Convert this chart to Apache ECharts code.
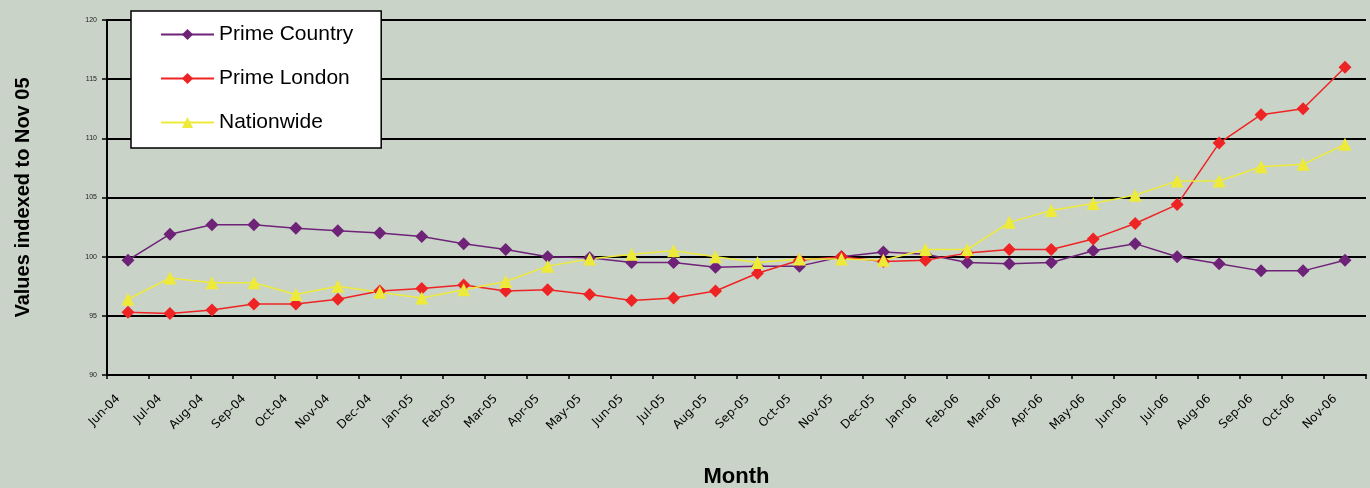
<!DOCTYPE html>
<html>
<head>
<meta charset="utf-8">
<script src="https://cdn.jsdelivr.net/npm/echarts@6/dist/echarts.min.js"></script>
<style>
  html, body { margin: 0; padding: 0; background: #CAD3C8; }
  #chart { width: 1370px; height: 488px; }
</style>
</head>
<body>
<div id="chart"></div>
<script>
// Monthly index values, Jun-04 to Nov-06 (Nov-05 = 100)
const months = [
  'Jun-04','Jul-04','Aug-04','Sep-04','Oct-04','Nov-04','Dec-04','Jan-05','Feb-05','Mar-05',
  'Apr-05','May-05','Jun-05','Jul-05','Aug-05','Sep-05','Oct-05','Nov-05','Dec-05','Jan-06',
  'Feb-06','Mar-06','Apr-06','May-06','Jun-06','Jul-06','Aug-06','Sep-06','Oct-06','Nov-06'
];
const primeCountry = [
  99.7, 101.9, 102.7, 102.7, 102.4, 102.2, 102.0, 101.7, 101.1, 100.6,
  100.0, 99.9, 99.5, 99.5, 99.1, 99.2, 99.2, 100.0, 100.4, 100.2,
  99.5, 99.4, 99.5, 100.5, 101.1, 100.0, 99.4, 98.8, 98.8, 99.7
];
const primeLondon = [
  95.3, 95.2, 95.5, 96.0, 96.0, 96.4, 97.1, 97.3, 97.6, 97.1,
  97.2, 96.8, 96.3, 96.5, 97.1, 98.6, 99.7, 100.0, 99.6, 99.7,
  100.3, 100.6, 100.6, 101.5, 102.8, 104.4, 109.6, 112.0, 112.5, 116.0
];
const nationwide = [
  96.4, 98.2, 97.8, 97.8, 96.8, 97.5, 97.0, 96.5, 97.2, 97.9,
  99.2, 99.8, 100.2, 100.5, 100.0, 99.5, 99.8, 99.8, 99.7, 100.6,
  100.6, 102.9, 103.9, 104.5, 105.2, 106.4, 106.4, 107.6, 107.8, 109.5
];
const yTicks = { min: 90, max: 120, step: 5 };

const FONT = 'Arial, "Liberation Sans", sans-serif';

const chart = echarts.init(document.getElementById('chart'), null, { renderer: 'canvas' });

function lineSeries(name, data, color, symbol, size) {
  return {
    name: name,
    type: 'line',
    data: data,
    symbol: symbol,
    symbolSize: size,
    lineStyle: { color: color, width: 1.5 },
    itemStyle: { color: color },
    animation: false
  };
}

chart.setOption({
  backgroundColor: '#CAD3C8',
  animation: false,
  grid: { left: 107, right: 4, top: 20, bottom: 113, containLabel: false, outerBoundsMode: 'none' },
  legend: {
    orient: 'vertical',
    left: 131,
    top: 11,
    backgroundColor: '#FFFFFF',
    borderColor: '#000000',
    borderWidth: 1.5,
    padding: [13, 28, 15, 29],
    itemGap: 23,
    itemWidth: 53,
    itemHeight: 14,
    textStyle: { fontFamily: FONT, fontSize: 21, color: '#000' },
    data: ['Prime Country', 'Prime London', 'Nationwide']
  },
  xAxis: {
    type: 'category',
    data: months,
    boundaryGap: true,
    name: 'Month',
    nameLocation: 'middle',
    nameGap: 91,
    nameTextStyle: { fontFamily: FONT, fontSize: 22, fontWeight: 'bold', color: '#000' },
    axisLine: { lineStyle: { color: '#000', width: 2 } },
    axisTick: { show: true, length: 4, lineStyle: { color: '#000', width: 1.5 } },
    axisLabel: {
      interval: 0,
      rotate: 45,
      fontFamily: '"DejaVu Sans", sans-serif',
      fontSize: 12,
      color: '#000',
      margin: 12,
      padding: [0, 14, 0, 0]
    },
    splitLine: { show: false }
  },
  yAxis: {
    type: 'value',
    min: yTicks.min,
    max: yTicks.max,
    interval: yTicks.step,
    name: 'Values indexed to Nov 05',
    nameLocation: 'middle',
    nameGap: 74,
    nameRotate: 90,
    nameTextStyle: { fontFamily: FONT, fontSize: 20, fontWeight: 'bold', color: '#000' },
    axisLine: { show: true, lineStyle: { color: '#000', width: 2 } },
    axisTick: { show: true, length: 5, lineStyle: { color: '#000', width: 1.5 } },
    axisLabel: { fontFamily: FONT, fontSize: 7, color: '#222', margin: 10 },
    splitLine: { show: true, lineStyle: { color: '#000', width: 2 } }
  },
  series: [
    lineSeries('Prime Country', primeCountry, '#6E2378', 'diamond', 13),
    lineSeries('Prime London', primeLondon, '#EE2424', 'diamond', 13),
    lineSeries('Nationwide', nationwide, '#EEEA3A', 'triangle', 13)
  ]
});
</script>
</body>
</html>
